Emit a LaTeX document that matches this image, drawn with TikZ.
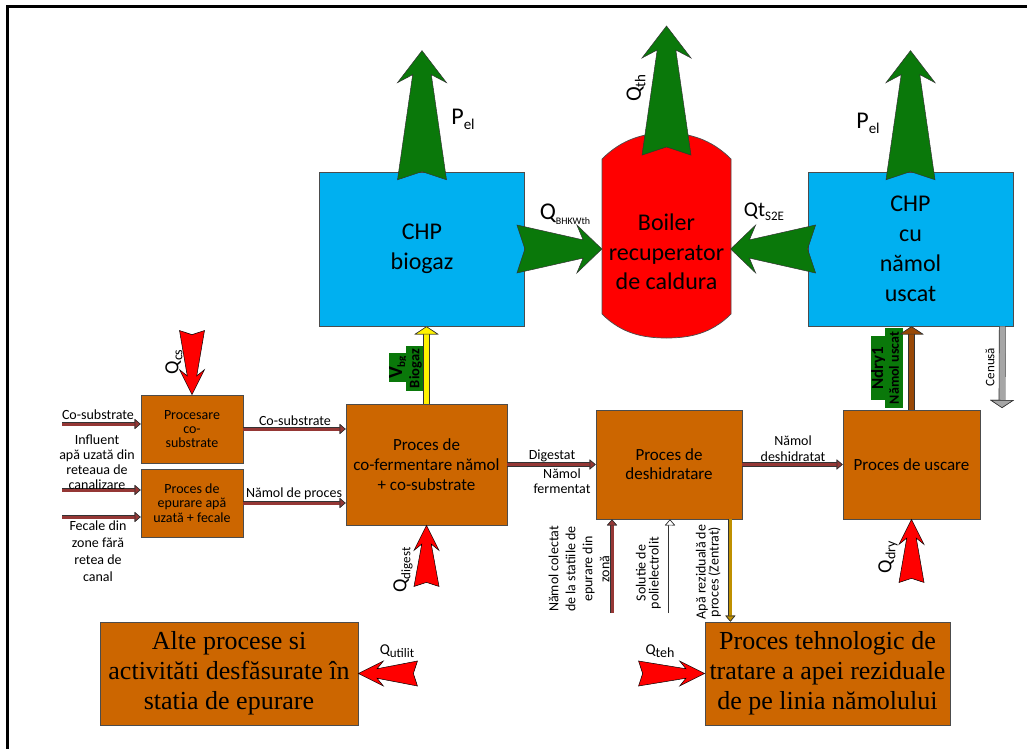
\documentclass[tikz,border=0pt]{standalone}
\usepackage{fontspec}
\setmainfont{Carlito}
\newfontfamily\timesfont{Liberation Serif}
\usetikzlibrary{arrows.meta,calc}

\definecolor{chpBlue}{HTML}{00B0F0}
\definecolor{procOrange}{HTML}{CC6600}
\definecolor{heatRed}{HTML}{FF0000}
\definecolor{powerGreen}{HTML}{0A780A}
\definecolor{flowBrown}{HTML}{953735}
\definecolor{dryBrown}{HTML}{984806}
\definecolor{zentratGold}{HTML}{BF9000}
\definecolor{ashGrey}{HTML}{A6A6A6}

\newcommand{\fsize}[2]{\fontsize{#1}{#2}\selectfont}
%% symbol with a lowered index: symbol, index, size, index size
\newcommand{\flux}[4]{{\fsize{#3}{#3}#1}\raisebox{-0.2\dimexpr#3pt\relax}{\fsize{#4}{#4}#2}}
%% block arrow with notched tail: style, notch point, angle, length, half width, head length
\newcommand{\fatArrow}[6]{%%
  \begin{scope}[shift={#2},rotate=#3]
    \draw[#1] ({-0.33*#5},{-#5}) -- (0,0) -- ({-0.33*#5},{#5})
      -- ({#4-0.75*#6},{0.38*#5}) -- ({#4-#6},{#5}) -- (#4,0)
      -- ({#4-#6},{-#5}) -- ({#4-0.75*#6},{-0.38*#5}) -- cycle;
  \end{scope}
}

\begin{document}
\begin{tikzpicture}[x=1pt,y=-1pt,
  procbox/.style={draw=black!70,fill=procOrange,line width=0.7pt,align=center,inner sep=0pt},
  chpbox/.style={draw=black!70,fill=chpBlue,line width=0.7pt,align=center,inner sep=0pt,
    minimum width=205pt,minimum height=154pt,font=\fsize{24}{30}},
  lbl/.style={align=center,inner sep=0pt,font=\fsize{14}{15}},
  tag/.style={fill=powerGreen,inner sep=0pt,rotate=90},
  flow/.style={draw=#1,line width=3pt,preaction={draw=black!80,line width=4.2pt},
    -{Triangle[length=6pt,width=10pt,fill=#1,color=black!80,line width=0.6pt]}},
  pipe/.style={draw=#1,line width=5.5pt,preaction={draw=black!80,line width=6.7pt},
    -{Triangle[length=8pt,width=24pt,fill=#1,color=black!80,line width=0.6pt]}},
  greenArrow/.style={fill=powerGreen,draw=black!80,line width=0.5pt},
  redArrow/.style={fill=heatRed,draw=black,line width=0.5pt}
]
\useasboundingbox (0,0) rectangle (1027,749);
%% frame
\draw[line width=3pt] (1027,7) -- (7,7) -- (7,749);
%%
%% process boxes
\node[procbox,minimum width=102pt,minimum height=68pt,font=\fsize{14}{14}] (proc) at (192,429) {Procesare\\co-\\substrate};
\node[procbox,minimum width=102pt,minimum height=68pt,font=\fsize{14}{14.5}] (epur) at (192,503) {Proces de\\epurare apă\\uzată + fecale};
\node[procbox,minimum width=161pt,minimum height=121pt,font=\fsize{17}{20}] (cofer) at (426.5,464.5) {Proces de\\co-fermentare nămol\\+ co-substrate};
\node[procbox,minimum width=146pt,minimum height=109pt,font=\fsize{17}{19}] (desh) at (669,464.5) {Proces de\\deshidratare};
\node[procbox,minimum width=137pt,minimum height=109pt,font=\fsize{17}{19}] (usc) at (911.5,464.5) {Proces de uscare};
\node[chpbox] (chpA) at (422,249) {CHP\\biogaz};
\node[chpbox] (chpB) at (910.5,249) {CHP\\cu\\nămol\\uscat};
\node[procbox,minimum width=258pt,minimum height=103pt,font=\timesfont\fsize{26}{30}] (alte) at (229,673.5) {Alte procese si\\activităti desfăsurate în\\statia de epurare};
\node[procbox,minimum width=245pt,minimum height=103pt,font=\timesfont\fsize{26}{30}] (teh) at (827.5,673.5) {Proces tehnologic de\\tratare a apei reziduale\\de pe linia nămolului};
%% boiler vessel
\coordinate (boilerTop) at (666.5,133);
\draw[fill=heatRed,draw=black!70,line width=0.7pt] (602,159)
  .. controls (622,139) and (644,133) .. (boilerTop)
  .. controls (689,133) and (711,139) .. (731,159) -- (731,314)
  .. controls (711,334) and (689,338) .. (666.5,338)
  .. controls (644,338) and (622,334) .. (602,314) -- cycle;
\node[align=center,inner sep=0pt,font=\fsize{24}{29.5}] (boiler) at (666.5,252) {Boiler\\recuperator\\de caldura};
%%
%% electrical and thermal outputs
\fatArrow{greenArrow}{(chpA.north)}{90}{121}{24.5}{32}
\fatArrow{greenArrow}{(chpB.north)}{90}{121}{24.5}{32}
\fatArrow{greenArrow}{($(boilerTop)+(0,14)$)}{90}{121}{24.5}{32}
\fatArrow{greenArrow}{(chpA.east)}{0}{77}{24}{25}
\fatArrow{greenArrow}{(chpB.west)}{180}{77}{24}{25}
%% heat demand
\fatArrow{redArrow}{($(proc.north)+(0,-60)$)}{-90}{60}{12.5}{25}
\fatArrow{redArrow}{($(cofer.south)+(0,57)$)}{90}{57}{12.5}{25}
\fatArrow{redArrow}{($(usc.south)+(0,59)$)}{90}{59}{12.5}{25}
\fatArrow{redArrow}{($(alte.east)+(55,0)$)}{180}{55}{12.5}{25}
\fatArrow{redArrow}{($(teh.west)+(-62,0)$)}{0}{62}{12.5}{25}
%%
%% sludge and water lines
\coordinate (coIn) at (62,424);
\coordinate (infIn) at (62,490);
\coordinate (fecIn) at (62,517);
\draw[flow=flowBrown] (coIn) -- (coIn -| proc.west);
\draw[flow=flowBrown] (infIn) -- (infIn -| epur.west);
\draw[flow=flowBrown] (fecIn) -- (fecIn -| epur.west);
\draw[flow=flowBrown] (proc.east) -- (proc.east -| cofer.west);
\draw[flow=flowBrown] (epur.east) -- (epur.east -| cofer.west);
\draw[flow=flowBrown] (cofer.east) -- (desh.west);
\draw[flow=flowBrown] (desh.east) -- (usc.west);
\coordinate (colIn) at (612,613);
\coordinate (polIn) at (670,613);
\coordinate (zenOut) at ($(desh.south east)+(-12,0)$);
\draw[flow=flowBrown] (colIn) -- (colIn |- desh.south);
\draw[flow=white] (polIn) -- (polIn |- desh.south);
\draw[flow=zentratGold] (zenOut) -- (zenOut |- teh.north);
%% biogas, dried sludge and ash
\node[tag,minimum width=29pt,minimum height=16pt,font=\bfseries\fsize{20}{20}] (vbgTag) at (398,367.5) {V\raisebox{-3pt}{\fsize{11}{11}bg}};
\node[tag,minimum width=45pt,minimum height=19pt,font=\bfseries\fsize{14.5}{14.5}] (bgTag) at (415.5,368.5) {Biogaz};
\node[tag,minimum width=64pt,minimum height=13pt,font=\bfseries\fsize{17}{17}] (ndryTag) at (878.5,368) {Ndry1};
\node[tag,minimum width=80pt,minimum height=18pt,font=\bfseries\fsize{14}{14}] (nusTag) at (894,368) {Nămol uscat};
\coordinate (ashOut) at ($(chpB.south east)+(-11,0)$);
\coordinate (ashEnd) at (1002,408);
\draw[pipe=yellow] (cofer.north) -- (cofer.north |- chpA.south);
\draw[pipe=dryBrown] (usc.north) -- (usc.north |- chpB.south);
\draw[pipe=ashGrey] (ashOut) -- (ashEnd);
%%
%% flow labels
\node[lbl] (coInLbl) at (98,415) {Co-substrate};
\node[lbl] (infLbl) at (97,462) {Influent\\apă uzată din\\reteaua de\\canalizare};
\node[lbl,font=\fsize{14}{17}] (fecLbl) at (98,551.5) {Fecale din\\zone fără\\retea de\\canal};
\node[lbl] (coOutLbl) at (295,421) {Co-substrate};
\node[lbl] (namProcLbl) at (294,494) {Nămol de proces};
\node[lbl] (digLbl) at (552,456) {Digestat};
\node[lbl] (fermLbl) at (562,481) {Nămol\\fermentat};
\node[lbl,font=\fsize{14}{16}] (deshLbl) at (793,448.5) {Nămol\\deshidratat};
\node[lbl,rotate=90,font=\fsize{14}{17}] (colLbl) at (579,569) {Nămol colectat\\de la statiile de\\epurare din\\zonă};
\node[lbl,rotate=90,font=\fsize{14}{13}] (polLbl) at (648.5,573) {Solutie de\\polielectrolit};
\node[lbl,rotate=90,font=\fsize{14}{13}] (zenLbl) at (708.5,572) {Apă reziduală de\\proces (Zentrat)};
\node[lbl,rotate=90,font=\fsize{13}{13}] (ashLbl) at (990,367) {Cenusă};
%% energy labels
\node[inner sep=0pt] (pelA) at (463,119) {\flux{P}{el}{24}{15}};
\node[inner sep=0pt] (pelB) at (868,123) {\flux{P}{el}{24}{15}};
\node[inner sep=0pt,rotate=90] (qthLbl) at (636,88) {\flux{Q}{th}{22}{15}};
\node[inner sep=0pt] (qbhLbl) at (565,214) {\flux{Q}{BHKWth}{24}{10}};
\node[inner sep=0pt] (qtLbl) at (764,212) {\flux{Qt}{S2E}{21}{13}};
\node[inner sep=0pt,rotate=90] (qcsLbl) at (174,362) {\flux{Q}{cs}{20}{14}};
\node[inner sep=0pt,rotate=90] (qdigLbl) at (403,570) {\flux{Q}{digest}{20}{13}};
\node[inner sep=0pt,rotate=90] (qdryLbl) at (888,557) {\flux{Q}{dry}{20}{14}};
\node[inner sep=0pt] (qutLbl) at (397,651) {\flux{Q}{utilit}{15}{13}};
\node[inner sep=0pt] (qtehLbl) at (660,651) {\flux{Q}{teh}{15}{14}};
\end{tikzpicture}
\end{document}
